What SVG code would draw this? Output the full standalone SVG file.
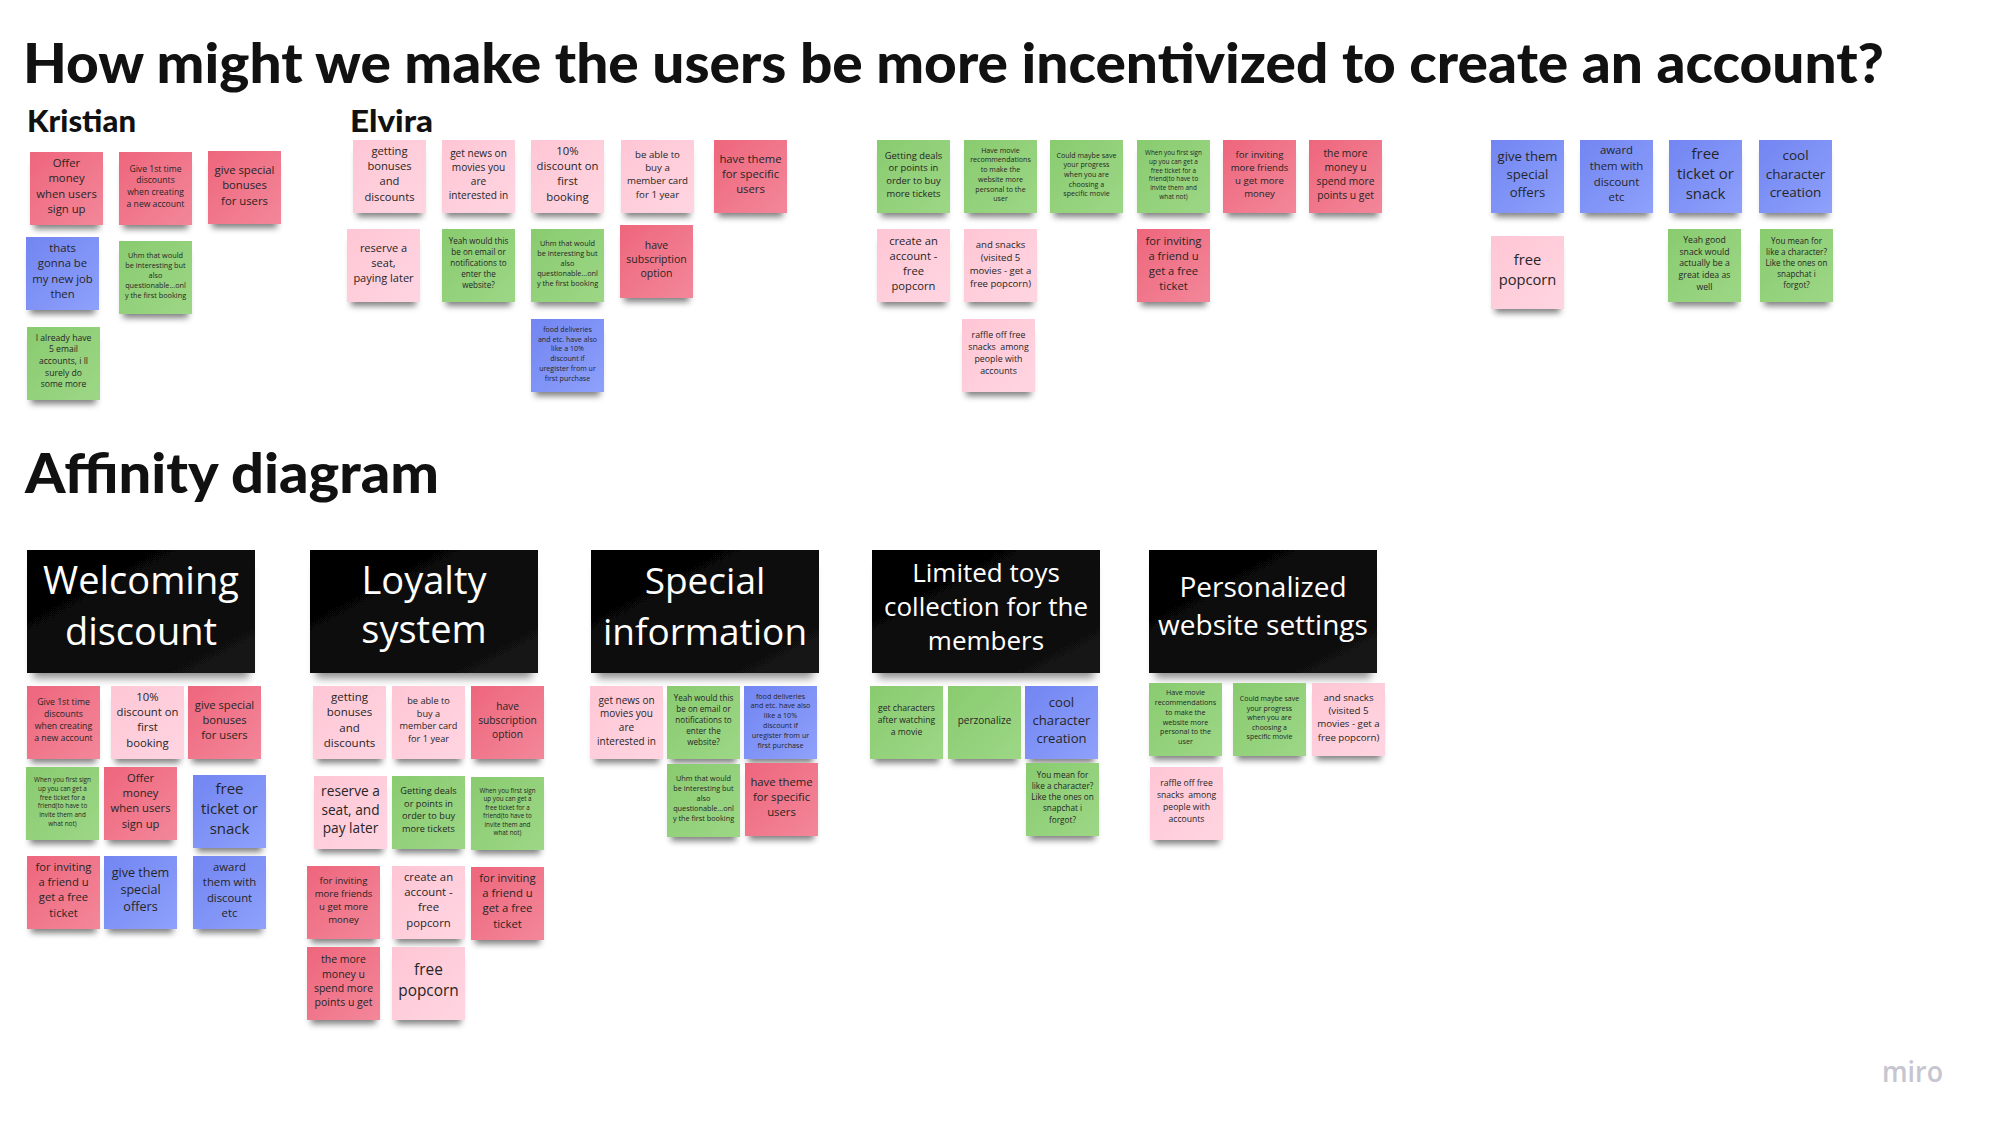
<svg xmlns="http://www.w3.org/2000/svg" width="1991" height="1130" viewBox="0 0 1991 1130">
<style>
.R{fill:url(#gR);filter:url(#ns)}
.P{fill:url(#gP);filter:url(#ns)}
.G{fill:url(#gG);filter:url(#ns)}
.B{fill:url(#gB);filter:url(#ns)}
.K{fill:url(#gK);filter:url(#hs)}
.t{font-family:"Open Sans","Liberation Sans",sans-serif;fill:#262626;text-anchor:middle;dominant-baseline:middle}
.h{font-family:"Open Sans","Liberation Sans",sans-serif;fill:#fff;text-anchor:middle}
.ttl{font-family:Lato,"Liberation Sans",sans-serif;font-weight:900;fill:#111}
</style>
<defs>
<linearGradient id="gR" x1="0" y1="0" x2="1" y2="1"><stop offset="0" stop-color="#ee667c"/><stop offset="1" stop-color="#f3879a"/></linearGradient>
<linearGradient id="gP" x1="0" y1="0" x2="1" y2="1"><stop offset="0" stop-color="#ffc6d5"/><stop offset="1" stop-color="#ffd5e1"/></linearGradient>
<linearGradient id="gG" x1="0" y1="0" x2="1" y2="1"><stop offset="0" stop-color="#89cb6f"/><stop offset="1" stop-color="#9dd786"/></linearGradient>
<linearGradient id="gB" x1="0" y1="0" x2="1" y2="1"><stop offset="0" stop-color="#7285f2"/><stop offset="1" stop-color="#8ea1fb"/></linearGradient>
<linearGradient id="gK" x1="0" y1="0" x2="1" y2="1"><stop offset="0" stop-color="#000"/><stop offset="1" stop-color="#151515"/></linearGradient>
<filter id="ns" x="-20%" y="-20%" width="140%" height="160%">
<feMorphology in="SourceAlpha" operator="erode" radius="4" result="e"/>
<feOffset in="e" dy="8" result="o"/>
<feGaussianBlur in="o" stdDeviation="3" result="b"/>
<feFlood flood-color="#000" flood-opacity="0.5"/>
<feComposite in2="b" operator="in" result="s"/>
<feMerge><feMergeNode in="s"/><feMergeNode in="SourceGraphic"/></feMerge>
</filter>
<filter id="hs" x="-20%" y="-20%" width="140%" height="160%">
<feMorphology in="SourceAlpha" operator="erode" radius="6" result="e"/>
<feOffset in="e" dy="11" result="o"/>
<feGaussianBlur in="o" stdDeviation="4" result="b"/>
<feFlood flood-color="#000" flood-opacity="0.45"/>
<feComposite in2="b" operator="in" result="s"/>
<feMerge><feMergeNode in="s"/><feMergeNode in="SourceGraphic"/></feMerge>
</filter>
</defs>
<rect width="1991" height="1130" fill="#fff"/>

<g id="titles">
<text class="ttl" x="23" y="83" font-size="56" textLength="1861" lengthAdjust="spacingAndGlyphs">How might we make the users be more incentivized to create an account?</text>
<text class="ttl" x="27" y="132" font-size="30" textLength="109" lengthAdjust="spacingAndGlyphs">Kristian</text>
<text class="ttl" x="350" y="132" font-size="30" textLength="83" lengthAdjust="spacingAndGlyphs">Elvira</text>
<text class="ttl" x="25" y="493" font-size="56" textLength="414" lengthAdjust="spacingAndGlyphs">Affinity diagram</text>
<text x="1882" y="1082" font-family="'Open Sans','Liberation Sans',sans-serif" font-size="28" font-weight="600" fill="#c5c6cf" textLength="61" lengthAdjust="spacingAndGlyphs">miro</text>
</g>

<g id="connectors"></g>

<!-- Kristian -->
<g id="k1"><rect class="R" x="30" y="152" width="73" height="73"/><text class="t" x="66.5" y="164" font-size="11.3"><tspan x="66.5">Offer</tspan><tspan x="66.5" dy="15.3">money</tspan><tspan x="66.5" dy="15.3">when users</tspan><tspan x="66.5" dy="15.3">sign up</tspan></text></g>
<g id="k2"><rect class="R" x="119" y="152" width="73" height="73"/><text class="t" x="155.5" y="169.5" font-size="8.6"><tspan x="155.5">Give 1st time</tspan><tspan x="155.5" dy="11.7">discounts</tspan><tspan x="155.5" dy="11.7">when creating</tspan><tspan x="155.5" dy="11.7">a new account</tspan></text></g>
<g id="k3"><rect class="R" x="208" y="151" width="73" height="73"/><text class="t" x="244.5" y="171" font-size="11.3"><tspan x="244.5">give special</tspan><tspan x="244.5" dy="15.3">bonuses</tspan><tspan x="244.5" dy="15.3">for users</tspan></text></g>
<g id="k4"><rect class="B" x="26" y="237" width="73" height="73"/><text class="t" x="62.5" y="249" font-size="11.3"><tspan x="62.5">thats</tspan><tspan x="62.5" dy="15.3">gonna be</tspan><tspan x="62.5" dy="15.3">my new job</tspan><tspan x="62.5" dy="15.3">then</tspan></text></g>
<g id="k5"><rect class="G" x="119" y="241" width="73" height="73"/><text class="t" x="155.5" y="256" font-size="7.3"><tspan x="155.5">Uhm that would</tspan><tspan x="155.5" dy="10">be interesting but</tspan><tspan x="155.5" dy="10">also</tspan><tspan x="155.5" dy="10">questionable...onl</tspan><tspan x="155.5" dy="10">y the first booking</tspan></text></g>
<g id="k6"><rect class="G" x="27" y="327" width="73" height="73"/><text class="t" x="63.5" y="338.5" font-size="8.6"><tspan x="63.5">I already have</tspan><tspan x="63.5" dy="11.7">5 email</tspan><tspan x="63.5" dy="11.7">accounts, i ll</tspan><tspan x="63.5" dy="11.7">surely do</tspan><tspan x="63.5" dy="11.7">some more</tspan></text></g>

<!-- Elvira -->
<g id="e1"><rect class="P" x="353" y="140" width="73" height="73"/><text class="t" x="389.5" y="152" font-size="11.2"><tspan x="389.5">getting</tspan><tspan x="389.5" dy="15.2">bonuses</tspan><tspan x="389.5" dy="15.2">and</tspan><tspan x="389.5" dy="15.2">discounts</tspan></text></g>
<g id="e2"><rect class="P" x="442" y="140" width="73" height="73"/><text class="t" x="478.5" y="154.3" font-size="10.1"><tspan x="478.5">get news on</tspan><tspan x="478.5" dy="13.8">movies you</tspan><tspan x="478.5" dy="13.8">are</tspan><tspan x="478.5" dy="13.8">interested in</tspan></text></g>
<g id="e3"><rect class="P" x="531" y="140" width="73" height="73"/><text class="t" x="567.5" y="151.5" font-size="11.3"><tspan x="567.5">10%</tspan><tspan x="567.5" dy="15.4">discount on</tspan><tspan x="567.5" dy="15.4">first</tspan><tspan x="567.5" dy="15.4">booking</tspan></text></g>
<g id="e4"><rect class="P" x="621" y="140" width="73" height="73"/><text class="t" x="657.5" y="155" font-size="9.7"><tspan x="657.5">be able to</tspan><tspan x="657.5" dy="13.2">buy a</tspan><tspan x="657.5" dy="13.2">member card</tspan><tspan x="657.5" dy="13.2">for 1 year</tspan></text></g>
<g id="e5"><rect class="R" x="714" y="140" width="73" height="73"/><text class="t" x="750.5" y="159.5" font-size="11.3"><tspan x="750.5">have theme</tspan><tspan x="750.5" dy="15.3">for specific</tspan><tspan x="750.5" dy="15.3">users</tspan></text></g>
<g id="e6"><rect class="P" x="347" y="229" width="73" height="73"/><text class="t" x="383.5" y="249" font-size="11"><tspan x="383.5">reserve a</tspan><tspan x="383.5" dy="15">seat,</tspan><tspan x="383.5" dy="15">paying later</tspan></text></g>
<g id="e7"><rect class="G" x="442" y="229" width="73" height="73"/><text class="t" x="478.5" y="242" font-size="8.1"><tspan x="478.5">Yeah would this</tspan><tspan x="478.5" dy="11.1">be on email or</tspan><tspan x="478.5" dy="11.1">notifications to</tspan><tspan x="478.5" dy="11.1">enter the</tspan><tspan x="478.5" dy="11.1">website?</tspan></text></g>
<g id="e8"><rect class="G" x="531" y="229" width="73" height="73"/><text class="t" x="567.5" y="244" font-size="7.3"><tspan x="567.5">Uhm that would</tspan><tspan x="567.5" dy="10">be interesting but</tspan><tspan x="567.5" dy="10">also</tspan><tspan x="567.5" dy="10">questionable...onl</tspan><tspan x="567.5" dy="10">y the first booking</tspan></text></g>
<g id="e9"><rect class="R" x="620" y="225" width="73" height="73"/><text class="t" x="656.5" y="245.7" font-size="10.5"><tspan x="656.5">have</tspan><tspan x="656.5" dy="14.3">subscription</tspan><tspan x="656.5" dy="14.3">option</tspan></text></g>
<g id="e10"><rect class="B" x="531" y="319" width="73" height="73"/><text class="t" x="567.5" y="330" font-size="7.1"><tspan x="567.5">food deliveries</tspan><tspan x="567.5" dy="9.7">and etc. have also</tspan><tspan x="567.5" dy="9.7">like a 10%</tspan><tspan x="567.5" dy="9.7">discount if</tspan><tspan x="567.5" dy="9.7">uregister from ur</tspan><tspan x="567.5" dy="9.7">first purchase</tspan></text></g>

<!-- Middle group -->
<g id="m1"><rect class="G" x="877" y="140" width="73" height="73"/><text class="t" x="913.5" y="155.5" font-size="9.4"><tspan x="913.5">Getting deals</tspan><tspan x="913.5" dy="12.8">or points in</tspan><tspan x="913.5" dy="12.8">order to buy</tspan><tspan x="913.5" dy="12.8">more tickets</tspan></text></g>
<g id="m2"><rect class="G" x="964" y="140" width="73" height="73"/><text class="t" x="1000.5" y="150.7" font-size="7.1"><tspan x="1000.5">Have movie</tspan><tspan x="1000.5" dy="9.7">recommendations</tspan><tspan x="1000.5" dy="9.7">to make the</tspan><tspan x="1000.5" dy="9.7">website more</tspan><tspan x="1000.5" dy="9.7">personal to the</tspan><tspan x="1000.5" dy="9.7">user</tspan></text></g>
<g id="m3"><rect class="G" x="1050" y="140" width="73" height="73"/><text class="t" x="1086.5" y="155.6" font-size="7.1"><tspan x="1086.5">Could maybe save</tspan><tspan x="1086.5" dy="9.7">your progress</tspan><tspan x="1086.5" dy="9.7">when you are</tspan><tspan x="1086.5" dy="9.7">choosing a</tspan><tspan x="1086.5" dy="9.7">specific movie</tspan></text></g>
<g id="m4"><rect class="G" x="1137" y="140" width="73" height="73"/><text class="t" x="1173.5" y="153.3" font-size="6.4"><tspan x="1173.5">When you first sign</tspan><tspan x="1173.5" dy="8.7">up you can get a</tspan><tspan x="1173.5" dy="8.7">free ticket for a</tspan><tspan x="1173.5" dy="8.7">friend(to have to</tspan><tspan x="1173.5" dy="8.7">invite them and</tspan><tspan x="1173.5" dy="8.7">what not)</tspan></text></g>
<g id="m5"><rect class="R" x="1223" y="140" width="73" height="73"/><text class="t" x="1259.5" y="155.3" font-size="9.6"><tspan x="1259.5">for inviting</tspan><tspan x="1259.5" dy="13">more friends</tspan><tspan x="1259.5" dy="13">u get more</tspan><tspan x="1259.5" dy="13">money</tspan></text></g>
<g id="m6"><rect class="R" x="1309" y="140" width="73" height="73"/><text class="t" x="1345.5" y="154" font-size="10.3"><tspan x="1345.5">the more</tspan><tspan x="1345.5" dy="14">money u</tspan><tspan x="1345.5" dy="14">spend more</tspan><tspan x="1345.5" dy="14">points u get</tspan></text></g>
<g id="m7"><rect class="P" x="877" y="229" width="73" height="73"/><text class="t" x="913.5" y="241.5" font-size="11.2"><tspan x="913.5">create an</tspan><tspan x="913.5" dy="15.2">account -</tspan><tspan x="913.5" dy="15.2">free</tspan><tspan x="913.5" dy="15.2">popcorn</tspan></text></g>
<g id="m8"><rect class="P" x="964" y="229" width="73" height="73"/><text class="t" x="1000.5" y="244.7" font-size="9.6"><tspan x="1000.5">and snacks</tspan><tspan x="1000.5" dy="13">(visited 5</tspan><tspan x="1000.5" dy="13">movies - get a</tspan><tspan x="1000.5" dy="13">free popcorn)</tspan></text></g>
<g id="m9"><rect class="R" x="1137" y="229" width="73" height="73"/><text class="t" x="1173.5" y="241.5" font-size="11.2"><tspan x="1173.5">for inviting</tspan><tspan x="1173.5" dy="15.2">a friend u</tspan><tspan x="1173.5" dy="15.2">get a free</tspan><tspan x="1173.5" dy="15.2">ticket</tspan></text></g>
<g id="m10"><rect class="P" x="962" y="319" width="73" height="73"/><text class="t" x="998.5" y="336" font-size="8.8"><tspan x="998.5">raffle off free</tspan><tspan x="998.5" dy="12">snacks&#160; among</tspan><tspan x="998.5" dy="12">people with</tspan><tspan x="998.5" dy="12">accounts</tspan></text></g>

<!-- Right group -->
<g id="r1"><rect class="B" x="1491" y="140" width="73" height="73"/><text class="t" x="1527.5" y="157" font-size="13.1"><tspan x="1527.5">give them</tspan><tspan x="1527.5" dy="17.8">special</tspan><tspan x="1527.5" dy="17.8">offers</tspan></text></g>
<g id="r2"><rect class="B" x="1580" y="140" width="73" height="73"/><text class="t" x="1616.5" y="151.3" font-size="11.4"><tspan x="1616.5">award</tspan><tspan x="1616.5" dy="15.6">them with</tspan><tspan x="1616.5" dy="15.6">discount</tspan><tspan x="1616.5" dy="15.6">etc</tspan></text></g>
<g id="r3"><rect class="B" x="1669" y="140" width="73" height="73"/><text class="t" x="1705.5" y="154.5" font-size="15"><tspan x="1705.5">free</tspan><tspan x="1705.5" dy="20.3">ticket or</tspan><tspan x="1705.5" dy="20.3">snack</tspan></text></g>
<g id="r4"><rect class="B" x="1759" y="140" width="73" height="73"/><text class="t" x="1795.5" y="156.2" font-size="13.5"><tspan x="1795.5">cool</tspan><tspan x="1795.5" dy="18.3">character</tspan><tspan x="1795.5" dy="18.3">creation</tspan></text></g>
<g id="r5"><rect class="P" x="1491" y="236" width="73" height="73"/><text class="t" x="1527.5" y="260.5" font-size="14.7"><tspan x="1527.5">free</tspan><tspan x="1527.5" dy="20">popcorn</tspan></text></g>
<g id="r6"><rect class="G" x="1668" y="229" width="73" height="73"/><text class="t" x="1704.5" y="240.7" font-size="8.7"><tspan x="1704.5">Yeah good</tspan><tspan x="1704.5" dy="11.8">snack would</tspan><tspan x="1704.5" dy="11.8">actually be a</tspan><tspan x="1704.5" dy="11.8">great idea as</tspan><tspan x="1704.5" dy="11.8">well</tspan></text></g>
<g id="r7"><rect class="G" x="1760" y="229" width="73" height="73"/><text class="t" x="1796.5" y="242" font-size="8.1"><tspan x="1796.5">You mean for</tspan><tspan x="1796.5" dy="11.1">like a character?</tspan><tspan x="1796.5" dy="11.1">Like the ones on</tspan><tspan x="1796.5" dy="11.1">snapchat i</tspan><tspan x="1796.5" dy="11.1">forgot?</tspan></text></g>

<!-- Affinity headers -->
<g id="h1"><rect class="K" x="27" y="550" width="228" height="123"/><text class="h" font-size="38"><tspan x="141" y="594">Welcoming</tspan><tspan x="141" y="645">discount</tspan></text></g>
<g id="h2"><rect class="K" x="310" y="550" width="228" height="123"/><text class="h" font-size="38"><tspan x="424" y="594">Loyalty</tspan><tspan x="424" y="643">system</tspan></text></g>
<g id="h3"><rect class="K" x="591" y="550" width="228" height="123"/><text class="h" font-size="37"><tspan x="705" y="594">Special</tspan><tspan x="705" y="645">information</tspan></text></g>
<g id="h4"><rect class="K" x="872" y="550" width="228" height="123"/><text class="h" font-size="26"><tspan x="986" y="582">Limited toys</tspan><tspan x="986" y="616">collection for the</tspan><tspan x="986" y="650">members</tspan></text></g>
<g id="h5"><rect class="K" x="1149" y="550" width="228" height="123"/><text class="h" font-size="28"><tspan x="1263" y="597">Personalized</tspan><tspan x="1263" y="635">website settings</tspan></text></g>

<!-- Welcoming discount -->
<g id="w1"><rect class="R" x="27" y="686" width="73" height="73"/><text class="t" x="63.5" y="703" font-size="8.7"><tspan x="63.5">Give 1st time</tspan><tspan x="63.5" dy="11.9">discounts</tspan><tspan x="63.5" dy="11.9">when creating</tspan><tspan x="63.5" dy="11.9">a new account</tspan></text></g>
<g id="w2"><rect class="P" x="111" y="686" width="73" height="73"/><text class="t" x="147.5" y="697.7" font-size="11.3"><tspan x="147.5">10%</tspan><tspan x="147.5" dy="15.3">discount on</tspan><tspan x="147.5" dy="15.3">first</tspan><tspan x="147.5" dy="15.3">booking</tspan></text></g>
<g id="w3"><rect class="R" x="188" y="686" width="73" height="73"/><text class="t" x="224.5" y="705.8" font-size="11.2"><tspan x="224.5">give special</tspan><tspan x="224.5" dy="15.2">bonuses</tspan><tspan x="224.5" dy="15.2">for users</tspan></text></g>
<g id="w4"><rect class="G" x="26" y="767" width="73" height="73"/><text class="t" x="62.5" y="780.2" font-size="6.4"><tspan x="62.5">When you first sign</tspan><tspan x="62.5" dy="8.7">up you can get a</tspan><tspan x="62.5" dy="8.7">free ticket for a</tspan><tspan x="62.5" dy="8.7">friend(to have to</tspan><tspan x="62.5" dy="8.7">invite them and</tspan><tspan x="62.5" dy="8.7">what not)</tspan></text></g>
<g id="w5"><rect class="R" x="104" y="767" width="73" height="73"/><text class="t" x="140.5" y="779" font-size="11.2"><tspan x="140.5">Offer</tspan><tspan x="140.5" dy="15.2">money</tspan><tspan x="140.5" dy="15.2">when users</tspan><tspan x="140.5" dy="15.2">sign up</tspan></text></g>
<g id="w6"><rect class="B" x="193" y="775" width="73" height="73"/><text class="t" x="229.5" y="789.8" font-size="15"><tspan x="229.5">free</tspan><tspan x="229.5" dy="20.3">ticket or</tspan><tspan x="229.5" dy="20.3">snack</tspan></text></g>
<g id="w7"><rect class="R" x="27" y="856" width="73" height="73"/><text class="t" x="63.5" y="868" font-size="11.2"><tspan x="63.5">for inviting</tspan><tspan x="63.5" dy="15.2">a friend u</tspan><tspan x="63.5" dy="15.2">get a free</tspan><tspan x="63.5" dy="15.2">ticket</tspan></text></g>
<g id="w8"><rect class="B" x="104" y="856" width="73" height="73"/><text class="t" x="140.5" y="874" font-size="12.6"><tspan x="140.5">give them</tspan><tspan x="140.5" dy="17.2">special</tspan><tspan x="140.5" dy="17.2">offers</tspan></text></g>
<g id="w9"><rect class="B" x="193" y="856" width="73" height="73"/><text class="t" x="229.5" y="868" font-size="11.3"><tspan x="229.5">award</tspan><tspan x="229.5" dy="15.4">them with</tspan><tspan x="229.5" dy="15.4">discount</tspan><tspan x="229.5" dy="15.4">etc</tspan></text></g>

<!-- Loyalty system -->
<g id="l1"><rect class="P" x="313" y="686" width="73" height="73"/><text class="t" x="349.5" y="697.7" font-size="11.5"><tspan x="349.5">getting</tspan><tspan x="349.5" dy="15.5">bonuses</tspan><tspan x="349.5" dy="15.5">and</tspan><tspan x="349.5" dy="15.5">discounts</tspan></text></g>
<g id="l2"><rect class="P" x="392" y="686" width="73" height="73"/><text class="t" x="428.5" y="702" font-size="9.2"><tspan x="428.5">be able to</tspan><tspan x="428.5" dy="12.6">buy a</tspan><tspan x="428.5" dy="12.6">member card</tspan><tspan x="428.5" dy="12.6">for 1 year</tspan></text></g>
<g id="l3"><rect class="R" x="471" y="686" width="73" height="73"/><text class="t" x="507.5" y="707.3" font-size="10.2"><tspan x="507.5">have</tspan><tspan x="507.5" dy="13.8">subscription</tspan><tspan x="507.5" dy="13.8">option</tspan></text></g>
<g id="l4"><rect class="P" x="314" y="776" width="73" height="73"/><text class="t" x="350.5" y="792" font-size="13.7"><tspan x="350.5">reserve a</tspan><tspan x="350.5" dy="18.7">seat, and</tspan><tspan x="350.5" dy="18.7">pay later</tspan></text></g>
<g id="l5"><rect class="G" x="392" y="776" width="73" height="73"/><text class="t" x="428.5" y="792" font-size="9.2"><tspan x="428.5">Getting deals</tspan><tspan x="428.5" dy="12.6">or points in</tspan><tspan x="428.5" dy="12.6">order to buy</tspan><tspan x="428.5" dy="12.6">more tickets</tspan></text></g>
<g id="l6"><rect class="G" x="471" y="777" width="73" height="73"/><text class="t" x="507.5" y="790.8" font-size="6.3"><tspan x="507.5">When you first sign</tspan><tspan x="507.5" dy="8.5">up you can get a</tspan><tspan x="507.5" dy="8.5">free ticket for a</tspan><tspan x="507.5" dy="8.5">friend(to have to</tspan><tspan x="507.5" dy="8.5">invite them and</tspan><tspan x="507.5" dy="8.5">what not)</tspan></text></g>
<g id="l7"><rect class="R" x="307" y="866" width="73" height="73"/><text class="t" x="343.5" y="881" font-size="9.6"><tspan x="343.5">for inviting</tspan><tspan x="343.5" dy="13.1">more friends</tspan><tspan x="343.5" dy="13.1">u get more</tspan><tspan x="343.5" dy="13.1">money</tspan></text></g>
<g id="l8"><rect class="P" x="392" y="866" width="73" height="73"/><text class="t" x="428.5" y="877.7" font-size="11.3"><tspan x="428.5">create an</tspan><tspan x="428.5" dy="15.3">account -</tspan><tspan x="428.5" dy="15.3">free</tspan><tspan x="428.5" dy="15.3">popcorn</tspan></text></g>
<g id="l9"><rect class="R" x="471" y="867" width="73" height="73"/><text class="t" x="507.5" y="878.7" font-size="11.3"><tspan x="507.5">for inviting</tspan><tspan x="507.5" dy="15.3">a friend u</tspan><tspan x="507.5" dy="15.3">get a free</tspan><tspan x="507.5" dy="15.3">ticket</tspan></text></g>
<g id="l10"><rect class="R" x="307" y="947" width="73" height="73"/><text class="t" x="343.5" y="960.4" font-size="10.5"><tspan x="343.5">the more</tspan><tspan x="343.5" dy="14.2">money u</tspan><tspan x="343.5" dy="14.2">spend more</tspan><tspan x="343.5" dy="14.2">points u get</tspan></text></g>
<g id="l11"><rect class="P" x="392" y="947" width="73" height="73"/><text class="t" x="428.5" y="971" font-size="15.4"><tspan x="428.5">free</tspan><tspan x="428.5" dy="21">popcorn</tspan></text></g>

<!-- Special information -->
<g id="s1"><rect class="P" x="590" y="686" width="73" height="73"/><text class="t" x="626.5" y="700.5" font-size="10"><tspan x="626.5">get news on</tspan><tspan x="626.5" dy="13.7">movies you</tspan><tspan x="626.5" dy="13.7">are</tspan><tspan x="626.5" dy="13.7">interested in</tspan></text></g>
<g id="s2"><rect class="G" x="667" y="686" width="73" height="73"/><text class="t" x="703.5" y="699.2" font-size="8.1"><tspan x="703.5">Yeah would this</tspan><tspan x="703.5" dy="11">be on email or</tspan><tspan x="703.5" dy="11">notifications to</tspan><tspan x="703.5" dy="11">enter the</tspan><tspan x="703.5" dy="11">website?</tspan></text></g>
<g id="s3"><rect class="B" x="744" y="686" width="73" height="73"/><text class="t" x="780.5" y="696.6" font-size="7.2"><tspan x="780.5">food deliveries</tspan><tspan x="780.5" dy="9.8">and etc. have also</tspan><tspan x="780.5" dy="9.8">like a 10%</tspan><tspan x="780.5" dy="9.8">discount if</tspan><tspan x="780.5" dy="9.8">uregister from ur</tspan><tspan x="780.5" dy="9.8">first purchase</tspan></text></g>
<g id="s4"><rect class="G" x="667" y="764" width="73" height="73"/><text class="t" x="703.5" y="779.2" font-size="7.3"><tspan x="703.5">Uhm that would</tspan><tspan x="703.5" dy="10">be interesting but</tspan><tspan x="703.5" dy="10">also</tspan><tspan x="703.5" dy="10">questionable...onl</tspan><tspan x="703.5" dy="10">y the first booking</tspan></text></g>
<g id="s5"><rect class="R" x="745" y="763" width="73" height="73"/><text class="t" x="781.5" y="782.7" font-size="11.3"><tspan x="781.5">have theme</tspan><tspan x="781.5" dy="15.3">for specific</tspan><tspan x="781.5" dy="15.3">users</tspan></text></g>

<!-- Limited toys -->
<g id="t1"><rect class="G" x="870" y="686" width="73" height="73"/><text class="t" x="906.5" y="709.3" font-size="8.6"><tspan x="906.5">get characters</tspan><tspan x="906.5" dy="11.7">after watching</tspan><tspan x="906.5" dy="11.7">a movie</tspan></text></g>
<g id="t2"><rect class="G" x="948" y="686" width="73" height="73"/><text class="t" x="984.5" y="721" font-size="10">perzonalize</text></g>
<g id="t3"><rect class="B" x="1025" y="686" width="73" height="73"/><text class="t" x="1061.5" y="703" font-size="13.1"><tspan x="1061.5">cool</tspan><tspan x="1061.5" dy="17.8">character</tspan><tspan x="1061.5" dy="17.8">creation</tspan></text></g>
<g id="t4"><rect class="G" x="1026" y="763" width="73" height="73"/><text class="t" x="1062.5" y="775.8" font-size="8.2"><tspan x="1062.5">You mean for</tspan><tspan x="1062.5" dy="11.2">like a character?</tspan><tspan x="1062.5" dy="11.2">Like the ones on</tspan><tspan x="1062.5" dy="11.2">snapchat i</tspan><tspan x="1062.5" dy="11.2">forgot?</tspan></text></g>

<!-- Personalized -->
<g id="p1"><rect class="G" x="1149" y="683" width="73" height="73"/><text class="t" x="1185.5" y="693.2" font-size="7.2"><tspan x="1185.5">Have movie</tspan><tspan x="1185.5" dy="9.8">recommendations</tspan><tspan x="1185.5" dy="9.8">to make the</tspan><tspan x="1185.5" dy="9.8">website more</tspan><tspan x="1185.5" dy="9.8">personal to the</tspan><tspan x="1185.5" dy="9.8">user</tspan></text></g>
<g id="p2"><rect class="G" x="1233" y="683" width="73" height="73"/><text class="t" x="1269.5" y="699.2" font-size="7"><tspan x="1269.5">Could maybe save</tspan><tspan x="1269.5" dy="9.5">your progress</tspan><tspan x="1269.5" dy="9.5">when you are</tspan><tspan x="1269.5" dy="9.5">choosing a</tspan><tspan x="1269.5" dy="9.5">specific movie</tspan></text></g>
<g id="p3"><rect class="P" x="1312" y="683" width="73" height="73"/><text class="t" x="1348.5" y="698" font-size="9.7"><tspan x="1348.5">and snacks</tspan><tspan x="1348.5" dy="13.2">(visited 5</tspan><tspan x="1348.5" dy="13.2">movies - get a</tspan><tspan x="1348.5" dy="13.2">free popcorn)</tspan></text></g>
<g id="p4"><rect class="P" x="1150" y="767" width="73" height="73"/><text class="t" x="1186.5" y="784.4" font-size="8.6"><tspan x="1186.5">raffle off free</tspan><tspan x="1186.5" dy="11.7">snacks&#160; among</tspan><tspan x="1186.5" dy="11.7">people with</tspan><tspan x="1186.5" dy="11.7">accounts</tspan></text></g>
</svg>
